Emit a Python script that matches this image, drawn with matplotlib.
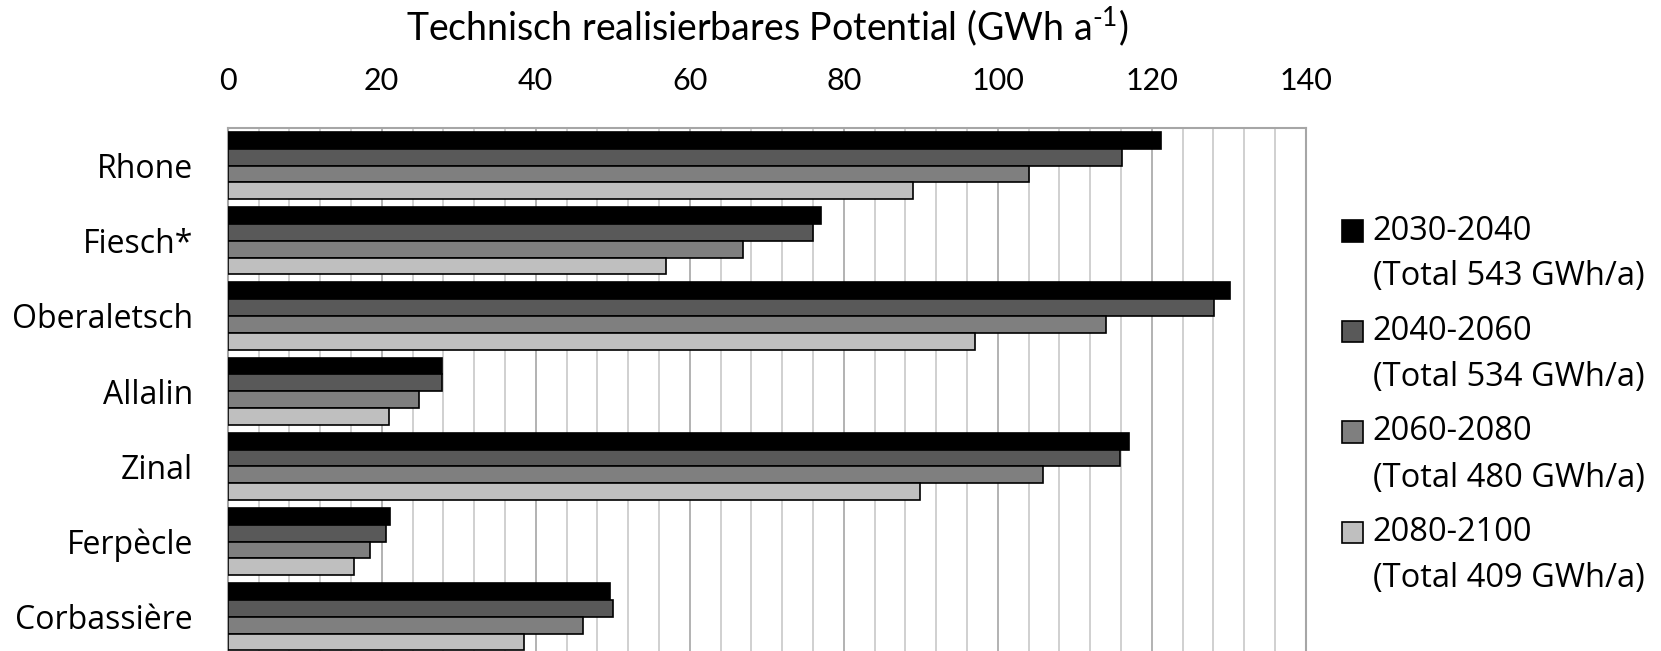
import numpy as np
import matplotlib
matplotlib.use("Agg")
import matplotlib.pyplot as plt
from matplotlib.patches import Rectangle
from matplotlib.ticker import MultipleLocator

# data
glaciers = ["Rhone", "Fiesch*", "Oberaletsch", "Allalin", "Zinal", "Ferpècle", "Corbassière"]
periods = ["2030-2040", "2040-2060", "2060-2080", "2080-2100"]
totals = [543, 534, 480, 409]
p2030 = [121.2, 77.0, 130.2, 27.8, 117.0, 21.1, 49.6]
p2040 = [116.1, 76.0, 128.1, 27.8, 115.9, 20.5, 50.0]
p2060 = [104.1, 66.9, 114.1, 24.9, 105.9, 18.5, 46.1]
p2080 = [89.0, 56.9, 97.1, 20.9, 89.9, 16.4, 38.5]
series = [p2030, p2040, p2060, p2080]
colors = ["#000000", "#595959", "#7f7f7f", "#bfbfbf"]

narrow = "Lato"
label_font = "Open Sans"
plt.rcParams["mathtext.fontset"] = "custom"
plt.rcParams["mathtext.rm"] = narrow
plt.rcParams["mathtext.it"] = narrow

fig = plt.figure(figsize=(16.61, 6.51), dpi=100)
ax = fig.add_axes([0.1371, -0.0052, 0.649, 0.8086])

y = np.arange(len(glaciers))
h = 0.2236
for i, vals in enumerate(series):
    ax.barh(y - 1.5 * h + i * h, vals, height=h, color=colors[i],
            edgecolor="black", linewidth=1.2, zorder=3)

ax.set_xlim(0, 140)
ax.set_ylim(len(glaciers) - 0.5, -0.5)
ax.xaxis.set_major_locator(MultipleLocator(20))
ax.xaxis.set_minor_locator(MultipleLocator(4))
ax.xaxis.tick_top()
ax.grid(axis="x", which="minor", color="#c8c8c8", linewidth=1.2, zorder=0)
ax.grid(axis="x", which="major", color="#a6a6a6", linewidth=1.2, zorder=0)
ax.tick_params(axis="x", which="both", length=0, pad=24, labelsize=22)
for t in ax.get_xticklabels():
    t.set_fontfamily([narrow, "DejaVu Sans"])
ax.set_yticks(y)
ax.set_yticklabels(glaciers, fontsize=23, fontfamily=[label_font, "DejaVu Sans"])
ax.tick_params(axis="y", length=0, pad=25)
for s in ax.spines.values():
    s.set_color("#a6a6a6")
    s.set_linewidth(1.5)

fig.text(0.4618, 0.96, r"Technisch realisierbares Potential (GWh a$^{\text{-1}}$)",
         ha="center", va="center", fontsize=27, fontfamily=[narrow, "DejaVu Sans"])

# legend drawn by hand: square beside first line, total on second line
for i, (p, tot) in enumerate(zip(periods, totals)):
    yc = 231 + i * 100.5
    fig.patches.append(Rectangle((1341.7 / 1661, 1 - (yc + 10.8) / 651),
                                 21.6 / 1661, 21.6 / 651,
                                 transform=fig.transFigure, facecolor=colors[i],
                                 edgecolor="black", linewidth=1.2))
    fig.text(1372.7 / 1661, 1 - yc / 651, p, ha="left", va="center",
             fontsize=23.5, fontfamily=[label_font, "DejaVu Sans"])
    fig.text(1372.7 / 1661, 1 - (yc + 46) / 651, "(Total %d GWh/a)" % tot,
             ha="left", va="center", fontsize=23.5, fontfamily=[label_font, "DejaVu Sans"])

fig.savefig("out.png", dpi=100)
